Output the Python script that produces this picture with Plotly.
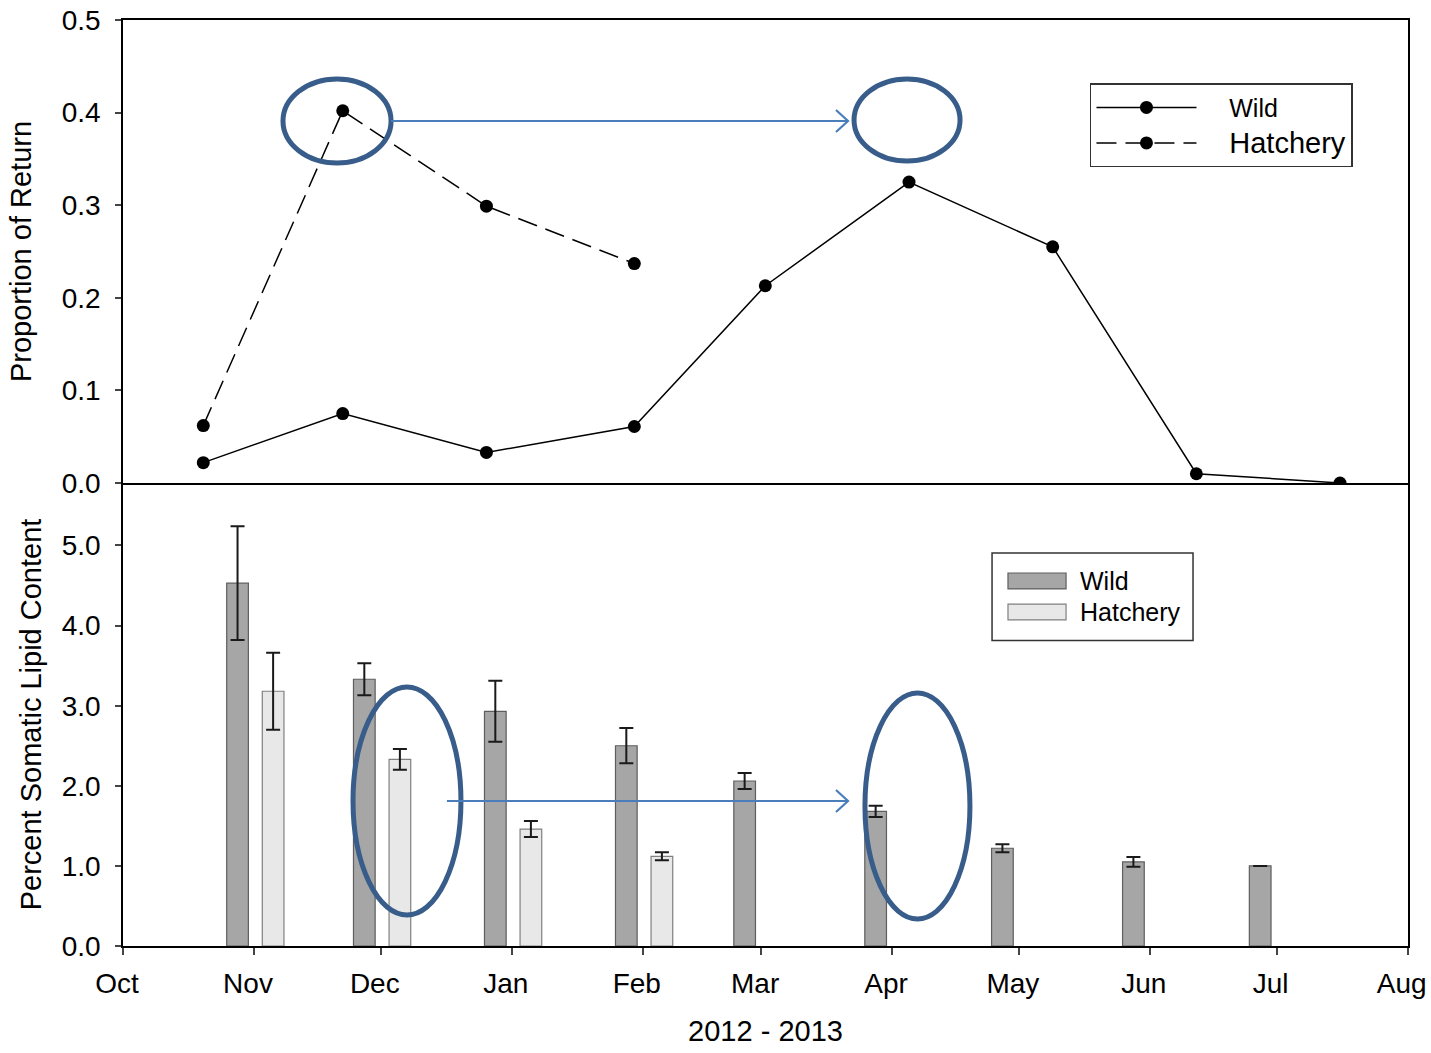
import plotly.graph_objects as go

# ---- Proportion of return (upper panel) ----
return_dates = ["2012-10-20", "2012-11-22", "2012-12-26", "2013-01-30", "2013-03-02",
                "2013-04-05", "2013-05-09", "2013-06-12", "2013-07-16"]
wild_return = [0.022, 0.075, 0.033, 0.061, 0.213, 0.325, 0.255, 0.010, 0.000]
hatchery_return_dates = ["2012-10-20", "2012-11-22", "2012-12-26", "2013-01-30"]
hatchery_return = [0.062, 0.402, 0.299, 0.237]

# ---- Percent somatic lipid content, mean and error (lower panel) ----
lipid_months = ["2012-11-01", "2012-12-01", "2013-01-01", "2013-02-01", "2013-03-01",
                "2013-04-01", "2013-05-01", "2013-06-01", "2013-07-01"]
wild_lipid = [4.53, 3.33, 2.93, 2.50, 2.06, 1.68, 1.22, 1.05, 1.00]
wild_lipid_err = [0.71, 0.20, 0.38, 0.22, 0.10, 0.07, 0.05, 0.06, None]
hatchery_months = ["2012-11-01", "2012-12-01", "2013-01-01", "2013-02-01"]
hatchery_lipid = [3.18, 2.33, 1.46, 1.12]
hatchery_lipid_err = [0.48, 0.13, 0.10, 0.05]

# ---- Month ticks ----
month_ticks = ["2012-10-01", "2012-11-01", "2012-12-01", "2013-01-01", "2013-02-01",
               "2013-03-01", "2013-04-01", "2013-05-01", "2013-06-01", "2013-07-01",
               "2013-08-01"]
month_labels = ["Oct", "Nov", "Dec", "Jan", "Feb", "Mar", "Apr", "May", "Jun", "Jul", "Aug"]

FONT = "Arial, 'Liberation Sans', sans-serif"
DAY_MS = 86400000
BAR_W = 5.13 * DAY_MS
WILD_OFF = -6.46 * DAY_MS
HATCH_OFF = 1.96 * DAY_MS
NB = "\u00a0"

fig = go.Figure()

# Upper panel: lines with markers
fig.add_trace(go.Scatter(
    x=return_dates, y=wild_return,
    name=NB * 4 + "<span style='font-size:25px'>Wild</span>", mode="lines+markers",
    line=dict(color="black", width=1.5),
    marker=dict(color="black", size=13),
    xaxis="x", yaxis="y", legend="legend",
))
fig.add_trace(go.Scatter(
    x=hatchery_return_dates, y=hatchery_return,
    name=NB * 4 + "<span style='font-size:29px'>Hatchery</span>",
    mode="lines+markers",
    line=dict(color="black", width=1.5, dash="20px,9px"),
    marker=dict(color="black", size=13),
    xaxis="x", yaxis="y", legend="legend",
))

# Lower panel: bars with error bars
fig.add_trace(go.Bar(
    x=lipid_months, y=wild_lipid, name="Wild",
    width=[BAR_W] * len(lipid_months), offset=[WILD_OFF] * len(lipid_months),
    marker=dict(color="#A6A6A6", line=dict(color="#5E5E5E", width=1.2)),
    error_y=dict(type="data", array=wild_lipid_err, visible=True,
                 color="#1a1a1a", thickness=2, width=7),
    xaxis="x2", yaxis="y2", showlegend=False,
))
fig.add_trace(go.Bar(
    x=hatchery_months, y=hatchery_lipid, name="Hatchery",
    width=[BAR_W] * len(hatchery_months), offset=[HATCH_OFF] * len(hatchery_months),
    marker=dict(color="#E8E8E8", line=dict(color="#808080", width=1.2)),
    error_y=dict(type="data", array=hatchery_lipid_err, visible=True,
                 color="#1a1a1a", thickness=2, width=7),
    xaxis="x2", yaxis="y2", showlegend=False,
))

axis_common = dict(showline=True, linecolor="black", linewidth=1.5,
                   showgrid=False, zeroline=False, automargin=False,
                   tickfont=dict(family=FONT, size=28, color="black"))
title_font = dict(family=FONT, size=29, color="black")

x_range = ["2012-10-01", "2013-08-01 02:00"]

shapes = []
ellipse_line = dict(color="#385D8A", width=5)
arrow_color = "#4A7EBB"

# ellipses (paper coordinates)
for x0, x1, y0, y1 in [(0.1245, 0.2086, 0.8456, 0.9363),
                       (0.5689, 0.6514, 0.8477, 0.9363),
                       (0.1790, 0.2630, 0.0335, 0.2797),
                       (0.5774, 0.6591, 0.0292, 0.2732)]:
    shapes.append(dict(type="circle", xref="paper", yref="paper",
                       x0=x0, x1=x1, y0=y0, y1=y1, line=ellipse_line, layer="above"))

# arrows: shaft + open chevron head
for xs, xe, ya in [(0.2086, 0.5642, 0.8909), (0.2521, 0.5642, 0.1566)]:
    shapes.append(dict(type="line", xref="paper", yref="paper",
                       x0=xs, x1=xe, y0=ya, y1=ya,
                       line=dict(color=arrow_color, width=2)))
    shapes.append(dict(type="path", xref="paper", yref="paper",
                       xsizemode="pixel", ysizemode="pixel", xanchor=xe, yanchor=ya,
                       path="M-12,-11 L0,0 L-12,11",
                       line=dict(color=arrow_color, width=2.2)))

# legend for the bar panel
lx0, lx1, ly0, ly1 = 0.6763, 0.8327, 0.3300, 0.4244
shapes.append(dict(type="rect", xref="paper", yref="paper",
                   x0=lx0, x1=lx1, y0=ly0, y1=ly1,
                   line=dict(color="#333333", width=1.5), fillcolor="white", layer="above"))
swatches = [("#A6A6A6", "#5E5E5E", 0.3942, "Wild"), ("#E8E8E8", "#808080", 0.3607, "Hatchery")]
annotations = []
for fill, edge, yc, label in swatches:
    shapes.append(dict(type="rect", xref="paper", yref="paper",
                       x0=0.6887, x1=0.7339, y0=yc - 0.0086, y1=yc + 0.0086,
                       line=dict(color=edge, width=1.2), fillcolor=fill, layer="above"))
    annotations.append(dict(text=label, xref="paper", yref="paper", x=0.7432, y=yc,
                            xanchor="left", yanchor="middle", showarrow=False,
                            font=dict(family=FONT, size=25, color="black")))

fig.update_layout(
    width=1431, height=1053,
    margin=dict(l=123, r=23, t=20, b=107),
    paper_bgcolor="white", plot_bgcolor="white",
    font=dict(family=FONT, size=28, color="black"),
    barmode="overlay",
    xaxis=dict(domain=[0, 1], anchor="y", type="date", range=x_range, mirror=True,
               showticklabels=False, ticks="", **axis_common),
    yaxis=dict(domain=[0.5, 1], anchor="x", range=[0, 0.5], tick0=0, dtick=0.1,
               tickformat=".1f", ticks="outside", ticklen=6, tickwidth=1.5,
               ticklabelstandoff=9, mirror=True,
               title=dict(text="Proportion of Return", font=title_font, standoff=22),
               **axis_common),
    xaxis2=dict(domain=[0, 1], anchor="y2", type="date", range=x_range, mirror=False,
                tickvals=month_ticks, ticktext=month_labels,
                ticks="outside", ticklen=7, tickwidth=1.5,
                ticklabelstandoff=5, ticklabelshift=-6, ticklabeloverflow="allow",
                title=dict(text="2012 - 2013", font=title_font, standoff=22),
                **axis_common),
    yaxis2=dict(domain=[0, 0.5], anchor="x2", range=[0, 5.78],
                tickvals=[0, 1, 2, 3, 4, 5], tickformat=".1f",
                ticks="outside", ticklen=6, tickwidth=1.5,
                ticklabelstandoff=9, mirror=True,
                title=dict(text="Percent Somatic Lipid Content", font=title_font, standoff=12),
                **axis_common),
    legend=dict(x=0.7525, y=0.9318, xanchor="left", yanchor="top",
                bordercolor="#333333", borderwidth=1.5, bgcolor="white",
                font=dict(family=FONT, size=25, color="black"),
                itemwidth=100, tracegroupgap=0),
    shapes=shapes,
    annotations=annotations,
)

fig.write_html("out.html")
